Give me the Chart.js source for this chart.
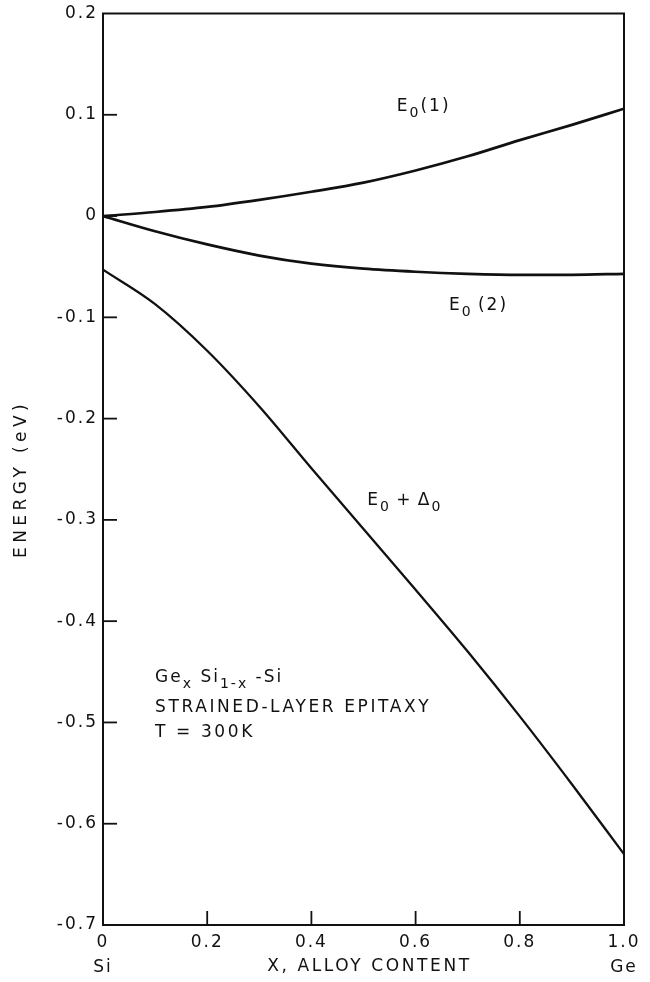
<!DOCTYPE html>
<html>
<head>
<meta charset="utf-8">
<script src="https://cdn.jsdelivr.net/npm/chart.js@4.4.1/dist/chart.umd.min.js"></script>
<style>
   html, body { margin: 0; padding: 0; background: #fff; }
   canvas { display: block; }
</style>
</head>
<body>
<canvas id="grafico" width="650" height="982"></canvas>
<script>
// valores (x = teor de Ge, energia em eV)
var alloyX = [0, 0.1, 0.2, 0.3, 0.4, 0.5, 0.6, 0.7, 0.8, 0.9, 1.0];
var energiaE0_1 = [0, 0.004, 0.009, 0.016, 0.024, 0.033, 0.045, 0.059, 0.075, 0.090, 0.106];
var energiaE0_2 = [0, -0.015, -0.028, -0.039, -0.047, -0.052, -0.055, -0.057, -0.058, -0.058, -0.057];
var energiaE0D0 = [-0.053, -0.087, -0.133, -0.188, -0.249, -0.309, -0.369, -0.430, -0.494, -0.561, -0.630];

var ticksX = [0, 0.2, 0.4, 0.6, 0.8, 1.0];
var ticksY = [0.2, 0.1, 0, -0.1, -0.2, -0.3, -0.4, -0.5, -0.6, -0.7];
var extremosX = ["Si", "Ge"];

var fonte = "'DejaVu Sans', Verdana, sans-serif";
var cor = "#111";

function pontos(valores) {
   return alloyX.map(function (x, i) {
      return { x: x, y: valores[i] };
   });
}

// escreve texto com subscritos: partes = [[texto, subscrito?], ...]
function escrever(ctx, x, y, partes) {
   partes.forEach(function (p) {
      var sub = p[1];
      ctx.font = (sub ? "14px " : "17px ") + fonte;
      ctx.fillText(p[0], x, sub ? y + 6 : y);
      x += ctx.measureText(p[0]).width;
   });
}

var extras = {
   id: "extras",
   beforeDraw: function (chart) {
      // espacamento das letras dos numeros dos eixos
      chart.ctx.letterSpacing = "2px";
   },
   afterDraw: function (chart) {
      var ctx = chart.ctx;
      var area = chart.chartArea;
      var sx = chart.scales.x;
      var sy = chart.scales.y;
      ctx.save();
      ctx.strokeStyle = cor;
      ctx.fillStyle = cor;

      // moldura
      ctx.lineWidth = 2;
      ctx.strokeRect(area.left, area.top, area.right - area.left, area.bottom - area.top);

      // tracinhos para dentro
      ctx.lineWidth = 1.8;
      ticksX.slice(1, -1).forEach(function (v) {
         var px = sx.getPixelForValue(v);
         ctx.beginPath();
         ctx.moveTo(px, area.bottom);
         ctx.lineTo(px, area.bottom - 14);
         ctx.stroke();
      });
      ticksY.slice(1, -1).forEach(function (v) {
         var py = sy.getPixelForValue(v);
         ctx.beginPath();
         ctx.moveTo(area.left, py);
         ctx.lineTo(area.left + 14, py);
         ctx.stroke();
      });

      ctx.textBaseline = "alphabetic";
      ctx.textAlign = "left";
      ctx.letterSpacing = "2px";

      // nomes das curvas
      escrever(ctx, sx.getPixelForValue(0.564), sy.getPixelForValue(0.1033),
         [["E", false], ["0", true], ["(1)", false]]);
      escrever(ctx, sx.getPixelForValue(0.664), sy.getPixelForValue(-0.0925),
         [["E", false], ["0", true], ["\u2009(2)", false]]);
      escrever(ctx, sx.getPixelForValue(0.507), sy.getPixelForValue(-0.2854),
         [["E", false], ["0", true], ["\u2009+\u2009\u0394", false], ["0", true]]);

      // legenda do material
      var lx = sx.getPixelForValue(0.1);
      escrever(ctx, lx, sy.getPixelForValue(-0.4596),
         [["Ge", false], ["x", true], [" Si", false], ["1-x", true], [" -Si", false]]);
      ctx.letterSpacing = "2.6px";
      escrever(ctx, lx, sy.getPixelForValue(-0.490), [["STRAINED-LAYER EPITAXY", false]]);
      escrever(ctx, lx, sy.getPixelForValue(-0.5148), [["T = 300K", false]]);

      // titulos dos eixos
      ctx.font = "17px " + fonte;
      ctx.textAlign = "center";
      ctx.textBaseline = "middle";
      ctx.letterSpacing = "2.6px";
      ctx.fillText("X, ALLOY CONTENT", (area.left + area.right) / 2 + 6, 967);

      ctx.translate(22, 479);
      ctx.rotate(-Math.PI / 2);
      ctx.letterSpacing = "4.4px";
      ctx.fillText("ENERGY (eV)", 0, 0);
      ctx.restore();
   }
};

var estiloLinha = {
   borderColor: cor,
   backgroundColor: cor,
   borderWidth: 2.7,
   pointRadius: 0,
   cubicInterpolationMode: "monotone",
   fill: false
};

new Chart(document.getElementById("grafico"), {
   type: "line",
   data: {
      datasets: [
         Object.assign({ label: "E0(1)", data: pontos(energiaE0_1) }, estiloLinha),
         Object.assign({ label: "E0(2)", data: pontos(energiaE0_2) }, estiloLinha),
         Object.assign({ label: "E0+D0", data: pontos(energiaE0D0) }, estiloLinha, { borderWidth: 2.3 })
      ]
   },
   options: {
      responsive: false,
      animation: false,
      devicePixelRatio: 1,
      layout: {
         padding: { left: 0, right: 26, top: 10, bottom: 0 }
      },
      plugins: {
         legend: { display: false },
         tooltip: { enabled: false }
      },
      scales: {
         x: {
            type: "linear",
            min: 0,
            max: 1,
            afterBuildTicks: function (scale) {
               scale.ticks = ticksX.map(function (v) { return { value: v }; });
            },
            afterFit: function (scale) { scale.height = 57; },
            grid: { display: false, drawTicks: false },
            border: { display: false },
            ticks: {
               padding: 5,
               maxRotation: 0,
               color: cor,
               font: { family: fonte, size: 17, lineHeight: "25px" },
               callback: function (v) {
                  if (v === 0) return ["0", extremosX[0]];
                  if (Math.abs(v - 1) < 1e-6) return ["1.0", extremosX[1]];
                  return v.toFixed(1);
               }
            }
         },
         y: {
            type: "linear",
            min: -0.7,
            max: 0.2,
            afterBuildTicks: function (scale) {
               scale.ticks = ticksY.map(function (v) { return { value: v }; });
            },
            afterFit: function (scale) { scale.width = 103; },
            grid: { display: false, drawTicks: false },
            border: { display: false },
            ticks: {
               padding: 5,
               color: cor,
               font: { family: fonte, size: 17, lineHeight: 1 },
               callback: function (v) {
                  if (Math.abs(v) < 1e-6) return "0";
                  return v.toFixed(1);
               }
            }
         }
      }
   },
   plugins: [extras]
});
</script>
</body>
</html>
